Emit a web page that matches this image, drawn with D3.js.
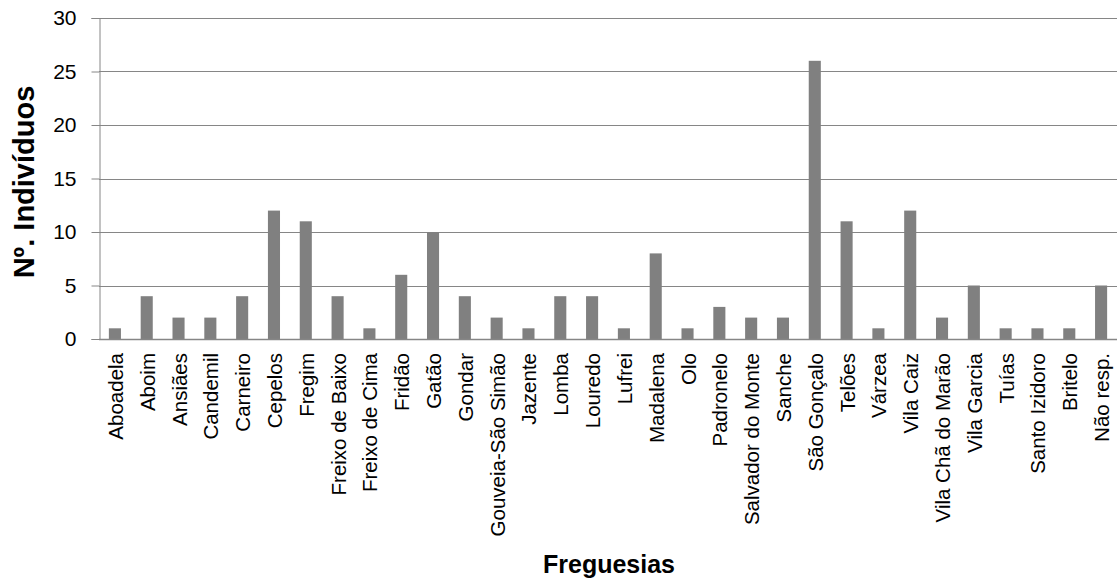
<!DOCTYPE html>
<html>
<head>
<meta charset="utf-8">
<script src="https://cdn.jsdelivr.net/npm/d3@7"></script>
<style>
  html, body { margin: 0; padding: 0; background: #fff; }
  svg { display: block; font-family: "Liberation Sans", Arial, sans-serif; }
</style>
</head>
<body>
<svg id="chart" width="1117" height="582"></svg>
<script>
const categories = ["Aboadela","Aboim","Ansiães","Candemil","Carneiro","Cepelos","Fregim","Freixo de Baixo","Freixo de Cima","Fridão","Gatão","Gondar","Gouveia-São Simão","Jazente","Lomba","Louredo","Lufrei","Madalena","Olo","Padronelo","Salvador do Monte","Sanche","São Gonçalo","Telões","Várzea","Vila Caiz","Vila Chã do Marão","Vila Garcia","Tuías","Santo Izidoro","Britelo","Não resp."];
const values = [1,4,2,2,4,12,11,4,1,6,10,4,2,1,4,4,1,8,1,3,2,2,26,11,1,12,2,5,1,1,1,5];
const yTicks = [0,5,10,15,20,25,30];
const xTitle = "Freguesias";
const yTitle = "Nº. Indivíduos";

const svg = d3.select("#chart");
const m = { left: 99, right: 0, top: 18, bottom: 243 };
const W = 1117, H = 582;
const x0 = m.left, x1 = W - m.right, y0 = H - m.bottom, y1 = m.top;

const x = d3.scaleBand().domain(categories).range([x0, x1]).paddingInner(0.62).paddingOuter(0.31);
const y = d3.scaleLinear().domain([0, 30]).range([y0, y1]);

const gridColor = "#868686";

// horizontal gridlines
svg.append("g").selectAll("line").data(yTicks.filter(d => d > 0)).join("line")
  .attr("x1", x0).attr("x2", x1)
  .attr("y1", d => Math.round(y(d)) + 0.5).attr("y2", d => Math.round(y(d)) + 0.5)
  .attr("stroke", gridColor).attr("stroke-width", 1);

// bars
svg.append("g").selectAll("rect").data(values).join("rect")
  .attr("x", (d, i) => x(categories[i]))
  .attr("width", x.bandwidth())
  .attr("y", d => y(d))
  .attr("height", d => y(0) - y(d))
  .attr("fill", "#808080");

// y axis
const yAxis = svg.append("g").attr("transform", `translate(${x0 + 0.5},0)`)
  .call(d3.axisLeft(y).tickValues(yTicks).tickSize(8).tickPadding(15));
yAxis.select(".domain").attr("stroke", gridColor);
yAxis.selectAll(".tick line").attr("stroke", gridColor);
yAxis.selectAll(".tick text").attr("font-size", 21).attr("fill", "#000")
  .attr("font-family", "'Liberation Sans', Arial, sans-serif");

// x axis line
svg.append("line").attr("x1", x0).attr("x2", x1)
  .attr("y1", Math.round(y0) + 0.5).attr("y2", Math.round(y0) + 0.5)
  .attr("stroke", gridColor).attr("stroke-width", 1.5);

// category labels
svg.append("g").selectAll("text").data(categories).join("text")
  .attr("transform", d => `translate(${x(d) + x.bandwidth() / 2 + 8},${y0 + 14}) rotate(-90)`)
  .attr("text-anchor", "end")
  .attr("font-size", 20.5)
  .attr("fill", "#000")
  .text(d => d);

// axis titles
svg.append("text")
  .attr("transform", `translate(34,182) rotate(-90)`)
  .attr("text-anchor", "middle").attr("font-weight", "bold").attr("font-size", 29)
  .text(yTitle);

svg.append("text")
  .attr("x", 609).attr("y", 573)
  .attr("text-anchor", "middle").attr("font-weight", "bold").attr("font-size", 25)
  .text(xTitle);
</script>
</body>
</html>
